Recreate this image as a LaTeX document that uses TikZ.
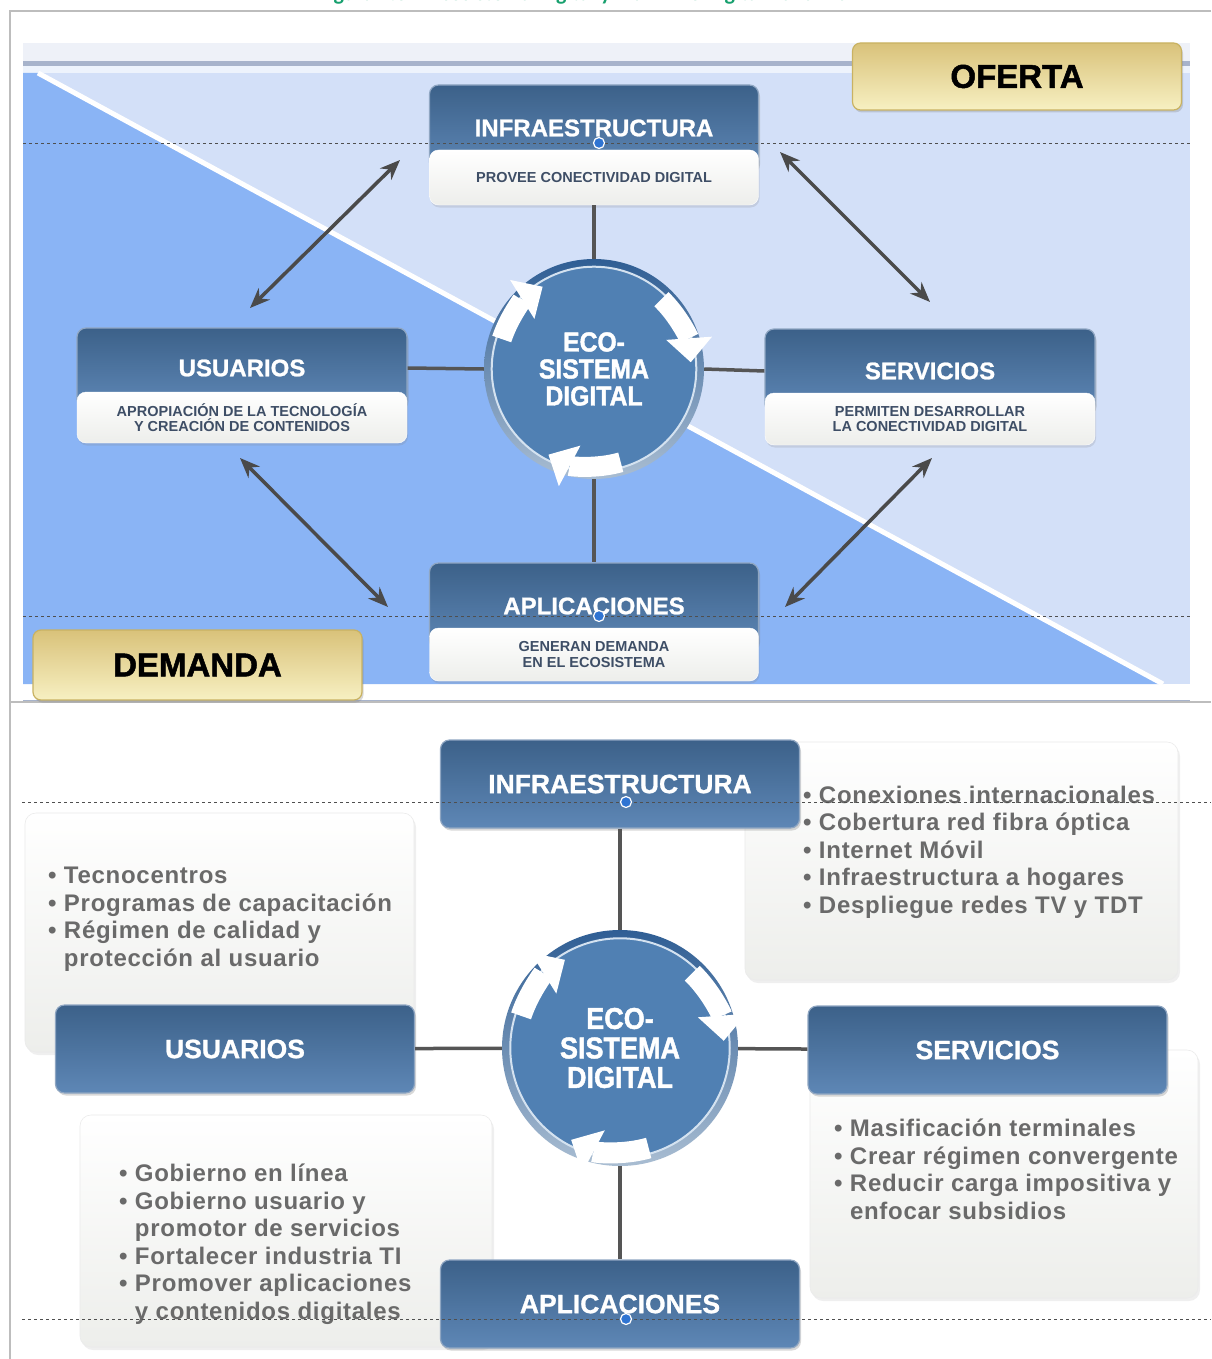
\documentclass[tikz,border=0pt]{standalone}
\usepackage{fontspec}
\setmainfont{Liberation Sans}
\newfontfamily\listfont[LetterSpace=3]{Liberation Sans}
\newfontfamily\headfont[BoldFeatures={FakeBold=1}]{Liberation Sans}
\newfontfamily\ecofont[FakeStretch=0.9,BoldFeatures={FakeBold=1.5}]{Liberation Sans}
\newfontfamily\tagfont[BoldFeatures={FakeBold=1.5}]{Liberation Sans}
\newfontfamily\capfont{Carlito}
\usetikzlibrary{arrows.meta,shadows}
\definecolor{frameC}{HTML}{BDBDBD}
\definecolor{bgLight}{HTML}{D3E0F8}
\definecolor{bgMid}{HTML}{8AB4F5}
\definecolor{stripC}{HTML}{EEF1F8}
\definecolor{stripLine}{HTML}{A7B3CB}
\definecolor{hdTop}{HTML}{3C6189}
\definecolor{hdBot}{HTML}{5E87B6}
\definecolor{hdLine}{HTML}{8FA6C2}
\definecolor{subText}{HTML}{3E4E66}
\definecolor{linkC}{HTML}{555555}
\definecolor{arrC}{HTML}{4A4A4A}
\definecolor{dashC}{HTML}{4F4F4F}
\definecolor{dotC}{HTML}{2F74D2}
\definecolor{goldTop}{HTML}{D9C27A}
\definecolor{goldBot}{HTML}{F7F0C2}
\definecolor{goldLine}{HTML}{C9B262}
\definecolor{ecoIn}{HTML}{5080B3}
\definecolor{ecoTop}{HTML}{2F5E94}
\definecolor{ecoBot}{HTML}{A9BDD2}
\definecolor{ringC}{HTML}{D4E2F0}
\definecolor{listText}{HTML}{6A6A6A}
\definecolor{panelBot}{HTML}{EDEEEB}
\definecolor{titleC}{HTML}{17A06E}
\tikzset{%
    head/.style={rounded corners=9pt, top color=hdTop, bottom color=hdBot,
        draw=hdLine, line width=1.2pt, text=white, inner sep=0pt,
        font=\headfont\bfseries\fontsize{24}{24}\selectfont,
        drop shadow={shadow xshift=1.5pt, shadow yshift=-2.5pt, opacity=0.3}},
    head2/.style={head, minimum width=359pt, minimum height=88pt,
        font=\headfont\bfseries\fontsize{26.5}{26.5}\selectfont},
    sub/.style={rounded corners=9pt, top color=white, bottom color=panelBot,
        draw=white, text=subText, align=center, inner sep=0pt,
        font=\bfseries\fontsize{14.5}{15.5}\selectfont,
        drop shadow={shadow xshift=1pt, shadow yshift=-2.5pt, opacity=0.2}},
    panel/.style={rounded corners=11pt, top color=white, bottom color=panelBot,
        draw=white!92!black, line width=0.6pt,
        drop shadow={shadow xshift=2pt, shadow yshift=-3pt, opacity=0.12}},
    list/.style={anchor=base west, align=left, inner sep=0pt, text=listText,
        font=\listfont\bfseries\fontsize{24}{27.5}\selectfont},
    eco/.style={circle, minimum size=#1, inner sep=0pt, top color=ecoTop,
        bottom color=ecoBot, text=white, align=center,
        path picture={\fill[ecoIn] (path picture bounding box.center) circle[radius=0.465*#1];
            \draw[ringC, line width=2pt] (path picture bounding box.center) circle[radius=0.465*#1];}},
    tag/.style={rounded corners=8pt, top color=goldTop, bottom color=goldBot,
        draw=goldLine, line width=1.2pt, minimum width=329pt, inner sep=0pt,
        font=\tagfont\bfseries\fontsize{33}{33}\selectfont,
        drop shadow={shadow xshift=1.5pt, shadow yshift=-2.5pt, opacity=0.3}},
    link/.style={linkC, line width=3.5pt},
    dbl/.style={arrC, line width=3.5pt,
        arrows={Stealth[length=20pt,width=16pt]-Stealth[length=20pt,width=16pt]}},
    cyc/.style={white, line width=#1,
        arrows={-Triangle[length=1.2*#1,width=2.3*#1,line width=0pt]}},
    dashline/.style={dashC, line width=0.9pt, dash pattern=on 3pt off 3pt},
    dot/.style={circle, fill=dotC, draw=white, line width=1.2pt,
        minimum size=11pt, inner sep=0pt}
}

\begin{document}
\begin{tikzpicture}[x=1pt,y=-1pt]
	\useasboundingbox (0,0) rectangle (1211,1359);
	\fill[white] (0,0) rectangle (1211,1359);
	\node[font=\capfont\bfseries\fontsize{22}{22}\selectfont, text=titleC, anchor=base] (caption) at (594,1) {Figura 2.8 -- Ecosistema Digital y Plan Vive Digital 2010- 2014};
	\draw[frameC, line width=2pt] (1211,11) -- (10,11) -- (10,1359);
	\draw[frameC, line width=1.5pt] (10,702) -- (1211,702);

	% upper picture
	\fill[stripC] (23,43) rectangle (1190,62);
	\fill[stripLine] (23,61) rectangle (1190,66);
	\fill[white!60!bgLight] (23,66) rectangle (1190,73);
	\fill[bgLight] (23,73) rectangle (1190,684);
	\fill[bgMid] (23,73) -- (38,73) -- (1163,684) -- (23,684) -- cycle;
	\draw[white, line width=5pt] (38,73) -- (1163,684);
	\draw[stripLine] (23,700) -- (1190,700);

	\coordinate (ui) at (250,308); \coordinate (iu) at (400,160);
	\coordinate (is) at (780,152); \coordinate (si) at (930,302);
	\coordinate (ua) at (240,458); \coordinate (au) at (388,607);
	\coordinate (sa) at (932,458); \coordinate (as) at (785,607);
	\draw[dbl] (ui) -- (iu);
	\draw[dbl] (is) -- (si);
	\draw[dbl] (ua) -- (au);
	\draw[dbl] (sa) -- (as);

	\node[head, minimum width=329pt, minimum height=86pt] (infra) at (594,128) {INFRAESTRUCTURA};
	\node[sub, minimum width=329pt, minimum height=55pt] (infraSub) at (594,177.5) {PROVEE CONECTIVIDAD DIGITAL};
	\node[head, minimum width=330pt, minimum height=80pt] (usu) at (242,368) {USUARIOS};
	\node[sub, minimum width=330pt, minimum height=51pt] (usuSub) at (242,417.5) {APROPIACIÓN DE LA TECNOLOGÍA\\Y CREACIÓN DE CONTENIDOS};
	\node[head, minimum width=330pt, minimum height=84pt] (serv) at (930,371) {SERVICIOS};
	\node[sub, minimum width=330pt, minimum height=52pt] (servSub) at (930,419) {PERMITEN DESARROLLAR\\LA CONECTIVIDAD DIGITAL};
	\node[head, minimum width=329pt, minimum height=86pt] (apli) at (594,606) {APLICACIONES};
	\node[sub, minimum width=329pt, minimum height=53pt] (apliSub) at (594,654.5) {GENERAN DEMANDA\\EN EL ECOSISTEMA};
	\node[eco=220, font=\ecofont\bfseries\fontsize{27.5}{27}\selectfont] (eco) at (594,369) {ECO-\\SISTEMA\\DIGITAL};

	\draw[link] (infraSub.south) -- (eco.north);
	\draw[link] (eco.south) -- (apli.north);
	\draw[link] (usu.east) -- (eco.west);
	\draw[link] (eco.east) -- (serv.west);

	\draw[cyc=20pt] ([shift={(-162:97)}]eco.center) arc[start angle=-162, end angle=-122, radius=97];
	\draw[cyc=20pt] ([shift={(-46:97)}]eco.center) arc[start angle=-46, end angle=-4, radius=97];
	\draw[cyc=20pt] ([shift={(74:97)}]eco.center) arc[start angle=74, end angle=118, radius=97];

	\draw[dashline] (23,143) -- (1190,143);
	\draw[dashline] (23,616) -- (1190,616);
	\node[dot] (dotInfra) at (599,143) {};
	\node[dot] (dotApli) at (599,616) {};

	\node[tag, minimum height=67pt] (oferta) at (1017,76.5) {OFERTA};
	\node[tag, minimum height=70pt] (demanda) at (197.5,665) {DEMANDA};

	% lower picture
	\node[panel, minimum width=433pt, minimum height=238pt] (infraPanel) at (961.5,861) {};
	\node[panel, minimum width=389pt, minimum height=239pt] (usuPanel) at (219.5,932.5) {};
	\node[panel, minimum width=388pt, minimum height=248pt] (servPanel) at (1004,1174) {};
	\node[panel, minimum width=412pt, minimum height=232pt] (apliPanel) at (286,1231) {};

	\node[head2] (infra2) at (620,784) {INFRAESTRUCTURA};
	\node[head2] (usu2) at (235,1049) {USUARIOS};
	\node[head2] (serv2) at (987.5,1050) {SERVICIOS};
	\node[head2] (apli2) at (620,1304) {APLICACIONES};
	\node[eco=236, font=\ecofont\bfseries\fontsize{30}{29.5}\selectfont] (eco2) at (620,1048) {ECO-\\SISTEMA\\DIGITAL};

	\draw[link] (infra2) -- (eco2);
	\draw[link] (eco2) -- (apli2);
	\draw[link] (usu2) -- (eco2);
	\draw[link] (eco2) -- (serv2);

	\draw[cyc=21pt] ([shift={(-162:104)}]eco2.center) arc[start angle=-162, end angle=-122, radius=104];
	\draw[cyc=21pt] ([shift={(-46:104)}]eco2.center) arc[start angle=-46, end angle=-4, radius=104];
	\draw[cyc=21pt] ([shift={(74:104)}]eco2.center) arc[start angle=74, end angle=118, radius=104];

	% multi-line lists: base is the last line
	\node[list] (infraList) at (803,913) {\textbullet\ Conexiones internacionales\\\textbullet\ Cobertura red fibra óptica\\\textbullet\ Internet Móvil\\\textbullet\ Infraestructura a hogares\\\textbullet\ Despliegue redes TV y TDT};
	\node[list] (usuList) at (48,966) {\textbullet\ Tecnocentros\\\textbullet\ Programas de capacitación\\\textbullet\ Régimen de calidad y\\\hphantom{\textbullet\ }protección al usuario};
	\node[list] (servList) at (834,1219) {\textbullet\ Masificación terminales\\\textbullet\ Crear régimen convergente\\\textbullet\ Reducir carga impositiva y\\\hphantom{\textbullet\ }enfocar subsidios};
	\node[list] (apliList) at (119,1319) {\textbullet\ Gobierno en línea\\\textbullet\ Gobierno usuario y\\\hphantom{\textbullet\ }promotor de servicios\\\textbullet\ Fortalecer industria TI\\\textbullet\ Promover aplicaciones\\\hphantom{\textbullet\ }y contenidos digitales};

	\draw[dashline] (22,802) -- (1211,802);
	\draw[dashline] (22,1319) -- (1211,1319);
	\node[dot] (dotInfra2) at (626,802) {};
	\node[dot] (dotApli2) at (626,1319) {};
\end{tikzpicture}
\end{document}
